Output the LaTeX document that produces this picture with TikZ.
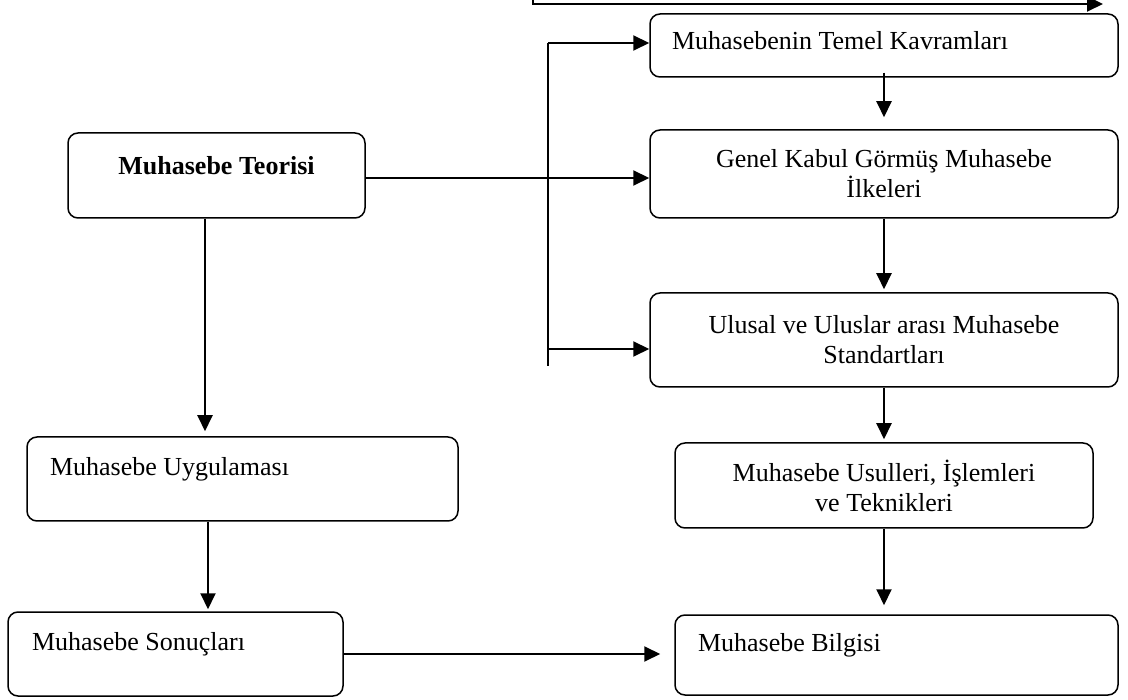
\documentclass[tikz,border=0pt]{standalone}
\usepackage{fontspec}
\setmainfont{Liberation Serif}
\usetikzlibrary{arrows.meta,positioning}

\begin{document}
\begin{tikzpicture}[
      x=1pt, y=-1pt,
      box/.style  = {draw, line width=1.5pt, rounded corners=10pt, inner sep=0pt,
                     font=\fontsize{26}{30}\selectfont},
      lift/.style = {text height=18pt, text depth=#1},
      lift/.default = 24pt,
      arr/.style  = {-{Triangle[length=16pt,width=15pt]}, line width=2pt},
      ln/.style   = {line width=2pt},
    ]
    \useasboundingbox (0,0) rectangle (1128,700);

    % right column
    \node[box, lift=10pt, minimum width=468pt, minimum height=63pt,
          inner xsep=22pt, text width=424pt, align=flush left]
                                  (temel)  at (884,45.5)  {Muhasebenin Temel Kavramları};
    \node[box, align=center, minimum width=468pt, minimum height=88pt]
                                  (genel)  at (884,174)   {Genel Kabul Görmüş Muhasebe\\İlkeleri};
    \node[box, align=center, minimum width=468pt, minimum height=94pt]
                                  (ulusal) at (884,340)   {Ulusal ve Uluslar arası Muhasebe\\Standartları};
    \node[box, align=center, minimum width=418pt, minimum height=85pt]
                                  (usul)   at (884,485.5) {Muhasebe Usulleri, İşlemleri\\ve Teknikleri};
    \node[box, lift=25pt, minimum width=443pt, minimum height=80pt,
          inner xsep=23pt, text width=397pt, align=flush left]
                                  (bilgi)  at (896.5,655) {Muhasebe Bilgisi};

    % left column
    \node[box, lift=20pt, minimum width=297pt, minimum height=85pt]
                                  (teori)  at (216.5,175.5) {\bfseries Muhasebe Teorisi};
    \node[box, lift=24pt, minimum width=431pt, minimum height=84pt,
          inner xsep=23pt, text width=385pt, align=flush left]
                                  (uygu)   at (242.5,479) {Muhasebe Uygulaması};
    \node[box, lift=25pt, minimum width=335pt, minimum height=84pt,
          inner xsep=24pt, text width=287pt, align=flush left]
                                  (sonuc)  at (175.5,654) {Muhasebe Sonuçları};

    % connectors
    \coordinate (cutA)  at (533,0);
    \coordinate (cutB)  at (1103,4);
    \coordinate (brtop) at (548,43);
    \coordinate (brlow) at (548,349);
    \coordinate (brbot) at (548,366);
    \coordinate (tg)    at ([yshift=-2.5pt]teori.east);
    \coordinate (tu)    at ([xshift=-11.5pt]teori.south);
    \coordinate (us)    at ([xshift=-34.5pt]uygu.south);

    \draw[arr] (cutA) |- (cutB);
    \draw[ln]  (brtop) -- (brbot);
    \draw[arr] (brtop) -- (temel.west |- brtop);
    \draw[arr] (brlow) -- (ulusal.west |- brlow);
    \draw[arr] (tg) -- (genel.west |- tg);

    \draw[arr] ([yshift=5pt]temel.south) -- ([yshift=12pt]genel.north);
    \draw[arr] (genel.south)  -- ([yshift=3pt]ulusal.north);
    \draw[arr] (ulusal.south) -- ([yshift=3pt]usul.north);
    \draw[arr] (usul.south)   -- ([yshift=9pt]usul.south |- bilgi.north);

    \draw[arr] (tu) -- ([yshift=5pt]tu |- uygu.north);
    \draw[arr] (us) -- ([yshift=2pt]us |- sonuc.north);
    \draw[arr] (sonuc.east) -- ([xshift=-14pt]bilgi.west |- sonuc.east);
  \end{tikzpicture}
\end{document}
